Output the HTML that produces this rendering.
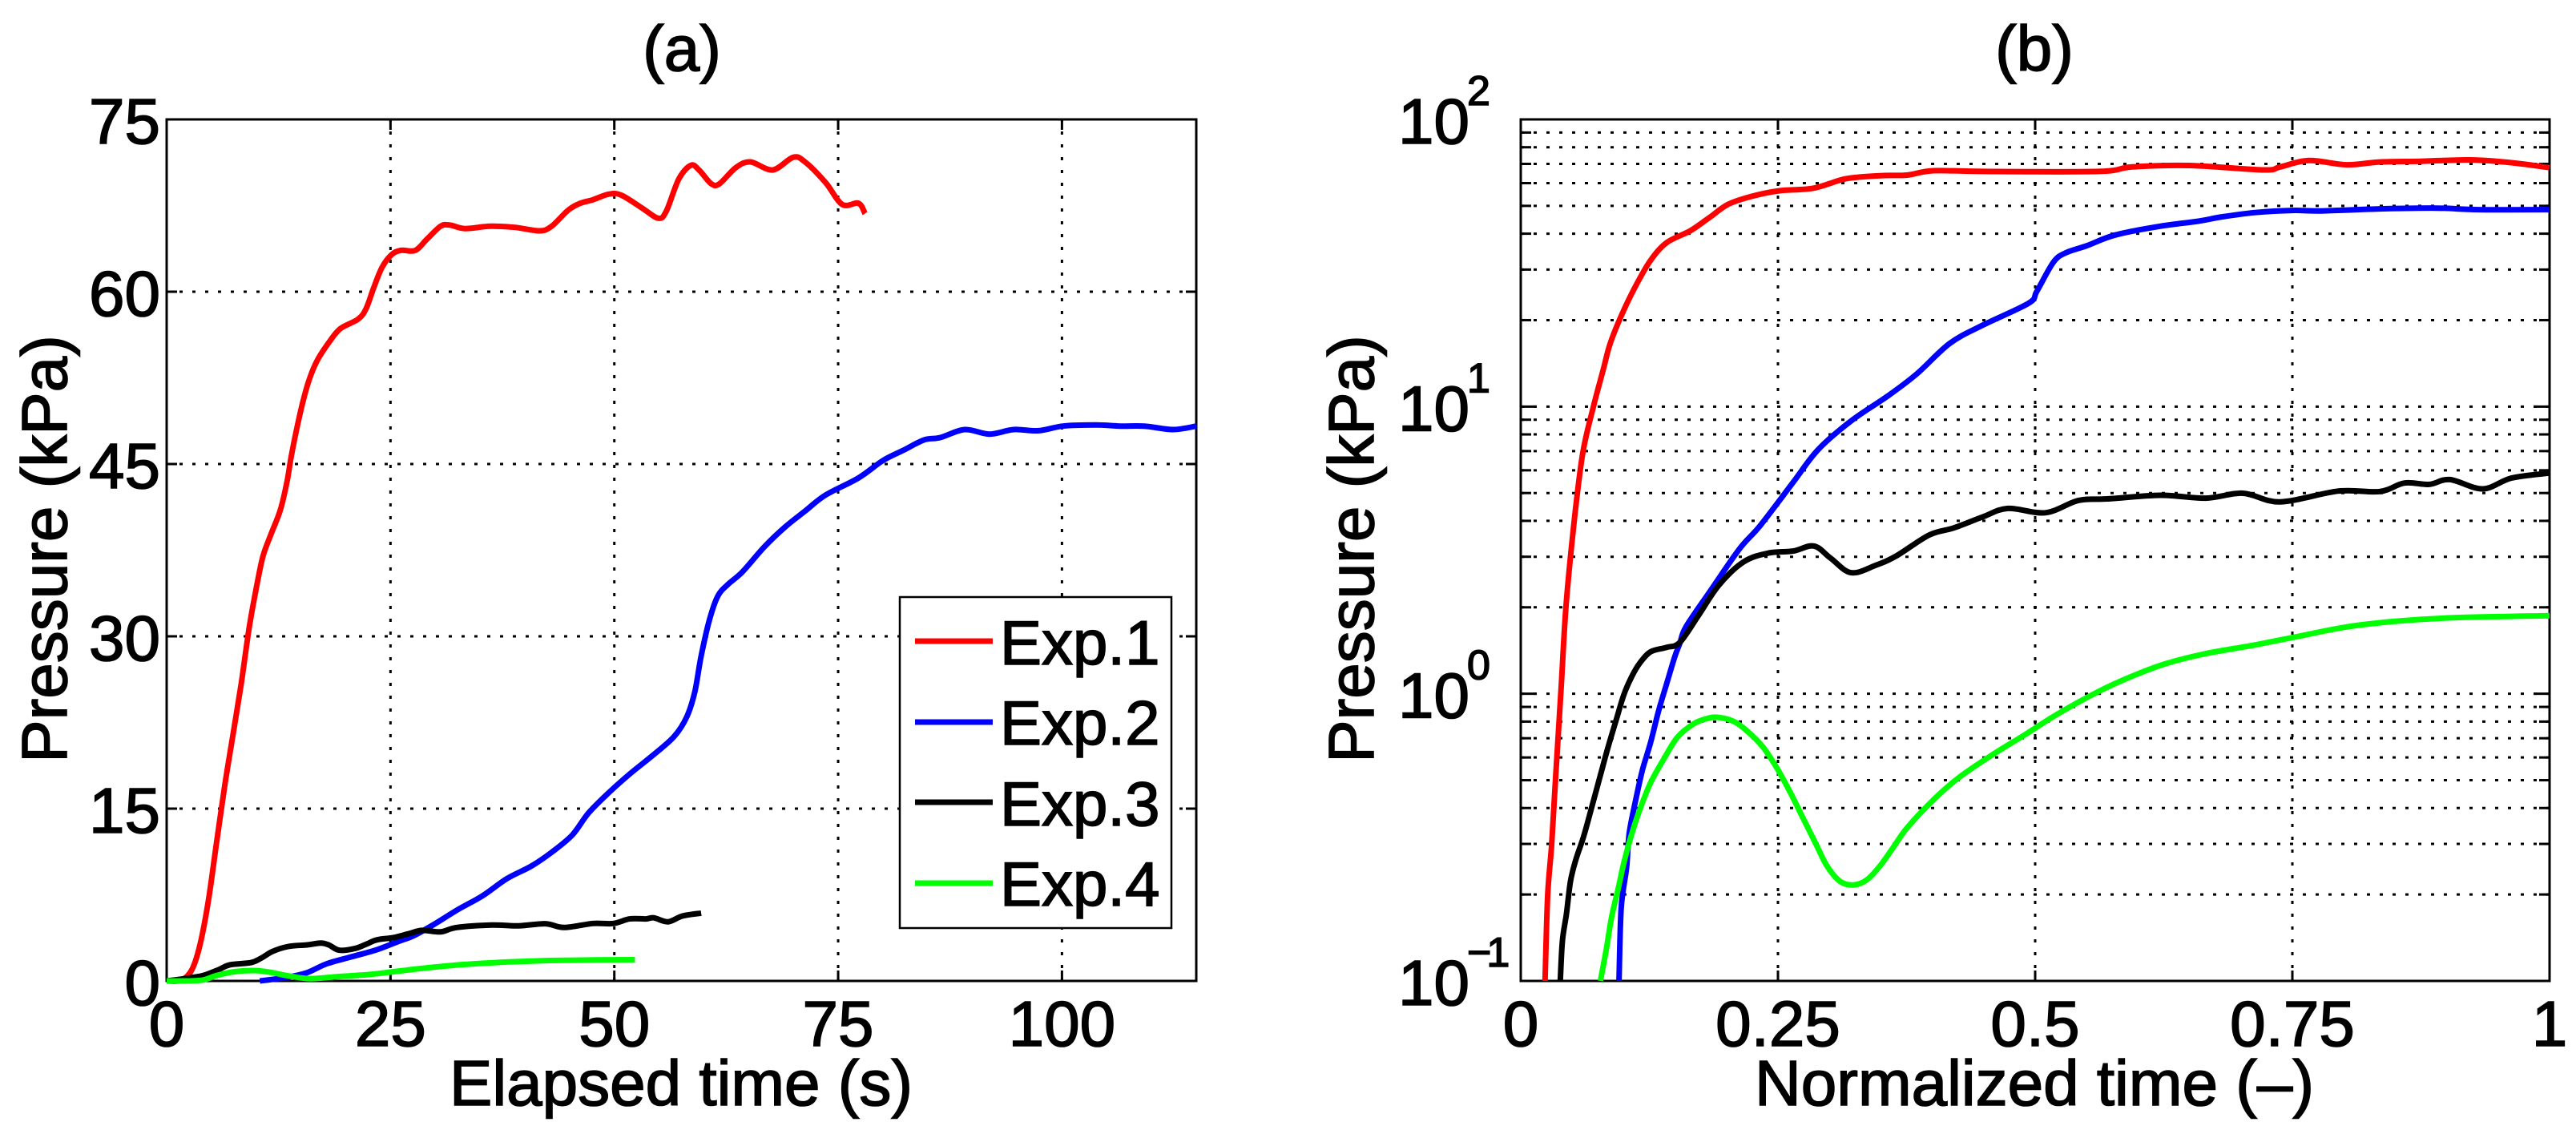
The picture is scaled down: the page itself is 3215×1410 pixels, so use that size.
<!DOCTYPE html>
<html lang="en">
<head>
<meta charset="utf-8">
<title>Pressure vs time</title>
<style>
html,body{margin:0;padding:0;background:#fff;width:3215px;height:1410px;overflow:hidden}
svg{display:block}
text{font-family:"Liberation Sans",Arial,sans-serif;fill:#000;stroke:#000;stroke-width:1.6px}
</style>
</head>
<body>
<svg id="fig" xmlns="http://www.w3.org/2000/svg" width="3215" height="1410" viewBox="0 0 3215 1410">
  <rect width="3215" height="1410" fill="#fff"/>
  <g id="gridA"></g>
  <g id="gridB"></g>
  <rect x="208" y="149" width="1285" height="1075" fill="none" stroke="#000" stroke-width="3"/>
  <rect x="1898" y="149" width="1284" height="1075" fill="none" stroke="#000" stroke-width="3"/>
  <g id="ticksA"></g>
  <g id="ticksB"></g>
  <g id="linesA"></g>
  <g id="linesB"></g>

  <text x="851" y="88" font-size="80" text-anchor="middle">(a)</text>
  <text x="2539" y="88" font-size="80" text-anchor="middle">(b)</text>
  <text x="850" y="1379" font-size="80" text-anchor="middle">Elapsed time (s)</text>
  <text x="2539" y="1379" font-size="80" text-anchor="middle">Normalized time (–)</text>
  <text transform="translate(83 685) rotate(-90)" font-size="80" text-anchor="middle">Pressure (kPa)</text>
  <text transform="translate(1714 685) rotate(-90)" font-size="80" text-anchor="middle">Pressure (kPa)</text>

  <g>
    <rect x="1123" y="745" width="339" height="413" fill="#fff" stroke="#000" stroke-width="2.5"/>
    <line x1="1142" x2="1239" y1="800" y2="800" stroke="#ff0000" stroke-width="7"/>
    <line x1="1142" x2="1239" y1="901" y2="901" stroke="#0000ff" stroke-width="7"/>
    <line x1="1142" x2="1239" y1="1001" y2="1001" stroke="#000000" stroke-width="7"/>
    <line x1="1142" x2="1239" y1="1102" y2="1102" stroke="#00ff00" stroke-width="7"/>
    <text x="1248" y="829" font-size="78">Exp.1</text>
    <text x="1248" y="929" font-size="78">Exp.2</text>
    <text x="1248" y="1030" font-size="78">Exp.3</text>
    <text x="1248" y="1130" font-size="78">Exp.4</text>
  </g>
</svg>
<script>
// ---- Panel (a): elapsed time (s) vs pressure (kPa)
const exp1TimeA = [0,1.64,2.83,3.74,4.66,5.57,6.49,7.4,8.31,9.23,10.08,10.77,11.66,12.7,13.45,13.9,14.5,15.24,15.99,16.88,18.23,19.42,21.36,22.26,23.15,24.05,25.09,26.13,27.77,29.1,30.6,31.65,33.3,36.17,38.9,41.65,43,44.85,46.2,47.6,49.4,50.8,53.07,54.9,55.8,57.2,58.55,59.46,60.83,61.75,63.57,65.2,67.68,69.97,71.3,73.6,75.45,77.27,78];
const exp1PressureA = [0,0.06,1,3.2,7,12,17,21.4,25.8,30.8,34.47,37,38.9,41,43.5,45.6,47.95,50.5,52.5,54.1,55.7,56.8,57.6,58.5,60.4,62.1,63.2,63.6,63.6,64.6,65.7,65.8,65.5,65.7,65.6,65.3,65.7,67.1,67.7,68,68.5,68.4,67.3,66.4,67,69.8,71,70.6,69.4,69.4,70.8,71.3,70.6,71.7,71.3,69.5,67.6,67.7,66.8];
const exp2TimeA = [10.41,13.34,15.6,17.9,20.64,23.4,26.1,27.5,29.8,32.5,35.26,38,40.74,43,45.3,47.1,49.4,51.7,54.4,56.7,58.1,59,59.7,60.65,61.56,62.66,64.3,66.77,69.05,71.3,73.6,77.3,80,82.3,84.6,86.4,89.15,91.9,94.6,97.4,100.1,103.8,106.5,109.2,112.4,115];
const exp2PressureA = [0,0.3,0.7,1.5,2.1,2.7,3.5,3.9,4.9,6.2,7.4,8.9,10,11.2,12.7,14.6,16.4,18,19.7,21.3,23,25.2,28.3,31.5,33.5,34.5,35.6,37.8,39.5,40.9,42.3,43.8,45.3,46.2,47.1,47.3,48,47.6,48,47.9,48.3,48.4,48.3,48.3,48,48.3];
const exp3TimeA = [0,2,4.06,5.85,7.04,9.43,10.6,11.8,13.6,15.7,17.2,18.1,19.3,21.1,22.3,23.5,25.3,27,28.5,30.6,32.4,36.3,39.3,42.3,44.4,47.6,49.9,51.7,53.5,54.4,56,57.6,59.7];
const exp3PressureA = [0,0.2,0.47,1,1.4,1.6,2,2.56,3,3.14,3.3,3.14,2.67,2.84,3.2,3.58,3.77,4.1,4.4,4.28,4.65,4.86,4.8,4.98,4.65,5,5,5.4,5.4,5.5,5.15,5.65,5.9];
const exp4TimeA = [0,3.76,5.55,7.64,10,11.8,13.6,16,19,22.6,25.3,28.5,33.3,38.1,42.3,45,48,52.3];
const exp4PressureA = [0,0.05,0.47,0.81,0.9,0.72,0.44,0.2,0.37,0.56,0.8,1.09,1.44,1.65,1.77,1.8,1.83,1.85];

// ---- Panel (b): normalized time vs pressure (kPa), log scale
const exp1TimeB = [0.0236,0.0262,0.0301,0.034,0.0392,0.0441,0.0522,0.0602,0.0706,0.0803,0.0872,0.1002,0.1132,0.1262,0.1417,0.165,0.1833,0.2015,0.2248,0.2508,0.2845,0.3157,0.3494,0.3754,0.401,0.449,0.562,0.594,0.65,0.722,0.738,0.766,0.803,0.835,0.875,0.923,0.963,1];
const exp1PressureB = [0.1,0.199,0.3,0.522,1.04,2.04,4.07,6.87,10,13.5,16.7,21.7,26.9,32.3,37.2,41,45.5,50.6,54,56.4,57.6,62.1,63.7,64,66.3,65.9,65.9,68.3,69.1,66.7,68.3,71.9,69.5,71.1,71.5,72.3,70.7,67.9];
const exp2TimeB = [0.0955,0.0976,0.1028,0.1054,0.112,0.1184,0.1262,0.134,0.1417,0.1495,0.1547,0.1605,0.1846,0.2127,0.2327,0.2648,0.2889,0.321,0.357,0.385,0.417,0.449,0.4936,0.5016,0.5177,0.5297,0.55,0.578,0.622,0.658,0.682,0.714,0.75,0.778,0.835,0.891,0.931,1];
const exp2PressureB = [0.1,0.179,0.247,0.326,0.431,0.545,0.676,0.873,1.08,1.34,1.5,1.71,2.29,3.2,3.85,5.45,7.07,8.91,10.9,13,16.6,19.2,22.9,25.2,31.8,34.3,36.3,39.6,42.5,44.2,45.8,47.4,48.2,48,48.8,49.1,48.5,48.5];
const exp3TimeB = [0.0384,0.0405,0.0444,0.0483,0.0535,0.0613,0.0691,0.0769,0.0847,0.0924,0.1002,0.108,0.1158,0.1262,0.1417,0.1547,0.1726,0.1926,0.2167,0.2408,0.2648,0.2849,0.301,0.321,0.345,0.365,0.397,0.421,0.449,0.4735,0.51,0.542,0.57,0.622,0.666,0.702,0.738,0.795,0.835,0.859,0.883,0.903,0.935,0.963,1];
const exp3PressureB = [0.1,0.138,0.171,0.222,0.264,0.32,0.404,0.512,0.649,0.802,0.993,1.15,1.28,1.4,1.45,1.51,1.87,2.39,2.88,3.09,3.14,3.27,2.97,2.64,2.8,3.02,3.57,3.78,4.13,4.42,4.27,4.71,4.77,4.91,4.8,4.99,4.66,5.08,5.06,5.42,5.36,5.57,5.17,5.64,5.87];
const exp4TimeB = [0.0774,0.0833,0.0885,0.095,0.1002,0.108,0.1158,0.1262,0.1392,0.1522,0.1678,0.1807,0.1911,0.2067,0.2196,0.2352,0.2482,0.2612,0.2741,0.2871,0.2975,0.3105,0.3235,0.3364,0.3494,0.3624,0.3754,0.401,0.425,0.4575,0.49,0.5217,0.562,0.594,0.626,0.666,0.714,0.754,0.803,0.851,0.907,1];
const exp4PressureB = [0.1,0.13,0.168,0.212,0.258,0.326,0.396,0.49,0.594,0.705,0.785,0.819,0.828,0.802,0.744,0.654,0.557,0.459,0.371,0.299,0.252,0.222,0.216,0.225,0.252,0.293,0.341,0.427,0.508,0.61,0.72,0.85,1.02,1.15,1.27,1.38,1.48,1.58,1.71,1.79,1.84,1.87];

// ---- Tick labels
const xTickLabelsA = ["0","25","50","75","100"];
const xTickValuesA = [0,25,50,75,100];
const yTickValuesA = [0,15,30,45,60,75];
const xTickLabelsB = ["0","0.25","0.5","0.75","1"];
const xTickValuesB = [0,0.25,0.5,0.75,1];
const yDecadesB = [-1,0,1,2];
const yDecadeExponentLabels = ["\u22121","0","1","2"];
const minorMultipliers = [2,3,4,5,6,7,8,9];

// ---- Axis functions
const plotA = {l:208, r:1493, t:149, b:1224};
const plotB = {l:1898, r:3182, t:149, b:1224};
function xA(v){ return plotA.l + v / 115 * (plotA.r - plotA.l); }
function yA(v){ return plotA.b - v / 75 * (plotA.b - plotA.t); }
function xB(v){ return plotB.l + v * (plotB.r - plotB.l); }
function yB(v){ return plotB.b - (Math.log10(v) + 1) / 3 * (plotB.b - plotB.t); }

const NS = "http://www.w3.org/2000/svg";
function make(tag, attrs, parent){
  const e = document.createElementNS(NS, tag);
  for (const k in attrs) e.setAttribute(k, attrs[k]);
  parent.appendChild(e);
  return e;
}
function smoothPath(px, py){
  let d = "M" + px[0].toFixed(1) + " " + py[0].toFixed(1);
  for (let i = 0; i < px.length - 1; i++){
    const i0 = Math.max(0, i - 1), i3 = Math.min(px.length - 1, i + 2);
    const c1x = px[i] + (px[i+1] - px[i0]) / 6, c1y = py[i] + (py[i+1] - py[i0]) / 6;
    const c2x = px[i+1] - (px[i3] - px[i]) / 6, c2y = py[i+1] - (py[i3] - py[i]) / 6;
    d += "C" + c1x.toFixed(1) + " " + c1y.toFixed(1) + " " + c2x.toFixed(1) + " " + c2y.toFixed(1) + " " + px[i+1].toFixed(1) + " " + py[i+1].toFixed(1);
  }
  return d;
}
function drawSeries(parent, xs, ys, fx, fy, color, name){
  const el = make("path", {d: smoothPath(xs.map(fx), ys.map(fy)), fill:"none", stroke:color, "stroke-width":7, "stroke-linejoin":"round"}, parent);
  
  
}
function gridLine(parent, x1, y1, x2, y2){
  const el = make("line", {x1:x1, y1:y1, x2:x2, y2:y2, stroke:"#000", "stroke-width":3, "stroke-dasharray":"4 12"}, parent);
  
  
}
function tickMark(parent, x1, y1, x2, y2){
  const el = make("line", {x1:x1, y1:y1, x2:x2, y2:y2, stroke:"#000", "stroke-width":3}, parent);
  
  
}
function tickLabel(parent, x, y, str, anchor, size){
  const el = make("text", {x:x, y:y, "font-size":size, "text-anchor":anchor}, parent);
  el.textContent = str;
  
  
  return el;
}
const TICK = 13;

// ---- Panel (a) grid, ticks, labels
const gA = document.getElementById("gridA"), tA = document.getElementById("ticksA");
xTickValuesA.forEach(function(v, i){
  const x = xA(v);
  if (v > 0) {
    gridLine(gA, x, plotA.b, x, plotA.t);
    tickMark(tA, x, plotA.b, x, plotA.b - TICK);
    tickMark(tA, x, plotA.t, x, plotA.t + TICK);
  }
  tickLabel(tA, x, 1305, xTickLabelsA[i], "middle", 80);
});
yTickValuesA.forEach(function(v){
  const y = yA(v);
  if (v > 0 && v < 75) {
    gridLine(gA, plotA.l, y, plotA.r, y);
    tickMark(tA, plotA.l, y, plotA.l + TICK, y);
    tickMark(tA, plotA.r, y, plotA.r - TICK, y);
  }
  tickLabel(tA, 200, y + 30, String(v), "end", 80);
});

// ---- Panel (b) grid, ticks, labels
const gB = document.getElementById("gridB"), tB = document.getElementById("ticksB");
xTickValuesB.forEach(function(v, i){
  const x = xB(v);
  if (v > 0 && v < 1) {
    gridLine(gB, x, plotB.b, x, plotB.t);
    tickMark(tB, x, plotB.b, x, plotB.b - TICK);
    tickMark(tB, x, plotB.t, x, plotB.t + TICK);
  }
  tickLabel(tB, x, 1305, xTickLabelsB[i], "middle", 80);
});
yDecadesB.forEach(function(dec, i){
  const major = Math.pow(10, dec);
  const y = yB(major);
  if (dec > -1 && dec < 2) {
    gridLine(gB, plotB.l, y, plotB.r, y);
    tickMark(tB, plotB.l, y, plotB.l + TICK * 1.5, y);
    tickMark(tB, plotB.r, y, plotB.r - TICK * 1.5, y);
  }
  tickLabel(tB, 1745, y + 30, "10", "start", 80);
  const expEl = tickLabel(tB, 1831, y - 18, yDecadeExponentLabels[i], "start", 52);
  if (dec < 0) expEl.setAttribute("letter-spacing", "-6");
  if (dec < 2) {
    minorMultipliers.forEach(function(m){
      const ym = yB(m * major);
      gridLine(gB, plotB.l, ym, plotB.r, ym);
      tickMark(tB, plotB.l, ym, plotB.l + TICK, ym);
      tickMark(tB, plotB.r, ym, plotB.r - TICK, ym);
    });
  }
});

// ---- Series
const lA = document.getElementById("linesA"), lB = document.getElementById("linesB");
drawSeries(lA, exp1TimeA, exp1PressureA, xA, yA, "#ff0000", "exp1-line-a");
drawSeries(lA, exp2TimeA, exp2PressureA, xA, yA, "#0000ff", "exp2-line-a");
drawSeries(lA, exp3TimeA, exp3PressureA, xA, yA, "#000000", "exp3-line-a");
drawSeries(lA, exp4TimeA, exp4PressureA, xA, yA, "#00ff00", "exp4-line-a");
drawSeries(lB, exp1TimeB, exp1PressureB, xB, yB, "#ff0000", "exp1-line-b");
drawSeries(lB, exp2TimeB, exp2PressureB, xB, yB, "#0000ff", "exp2-line-b");
drawSeries(lB, exp3TimeB, exp3PressureB, xB, yB, "#000000", "exp3-line-b");
drawSeries(lB, exp4TimeB, exp4PressureB, xB, yB, "#00ff00", "exp4-line-b");
</script>
</body>
</html>
